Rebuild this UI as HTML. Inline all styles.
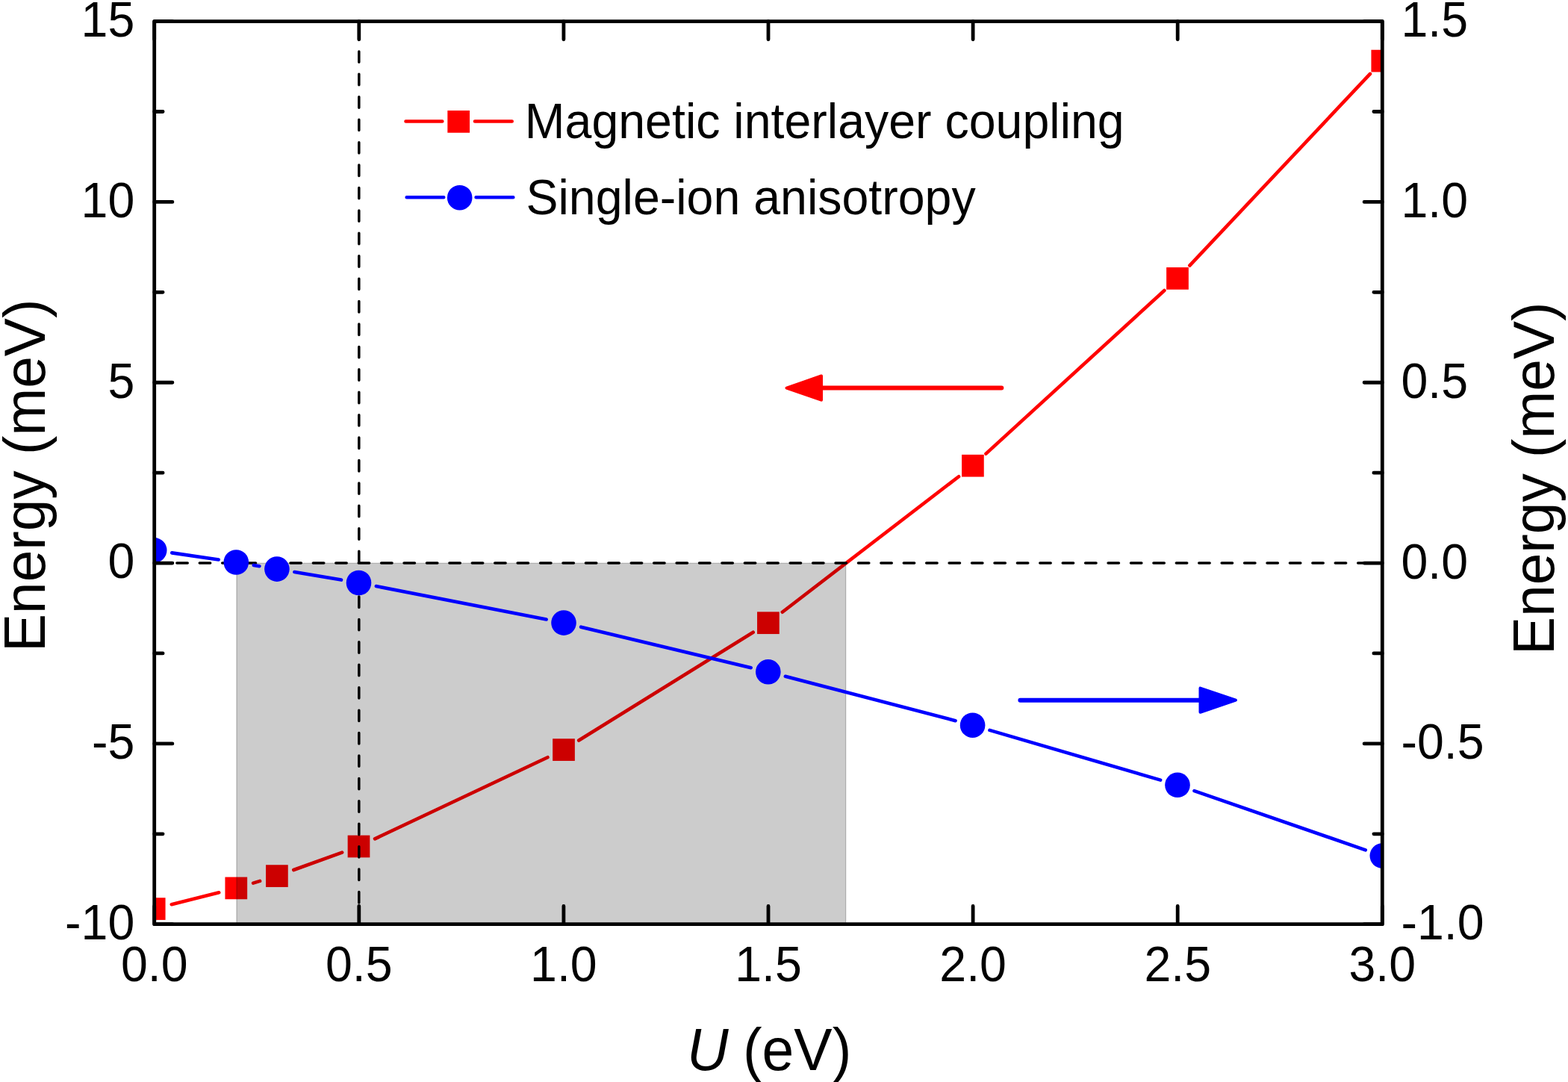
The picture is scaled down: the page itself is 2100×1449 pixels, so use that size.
<!DOCTYPE html><html><head><meta charset="utf-8"><style>html,body{margin:0;padding:0;background:#fff;}svg{display:block;}text{font-family:"Liberation Sans",Arial,sans-serif;fill:#000;}</style></head><body>
<svg width="2100" height="1449" viewBox="0 0 2100 1449">
<defs><clipPath id="pc"><rect x="206.70" y="28.60" width="1644.60" height="1209.10"/></clipPath></defs>
<rect width="2100" height="1449" fill="#fff"/>
<g clip-path="url(#pc)">
<path d="M229.77 1211.27L293.23 1195.23M339.11 1182.59L348.09 1179.91M393.28 1165.01L458.12 1141.59M502.03 1123.35L733.47 1014.25M775.22 991.55L1008.68 846.75M1047.77 819.70L1284.03 638.20M1320.46 607.63L1559.44 388.97M1593.32 355.57L1834.98 98.93" stroke="#f00" stroke-width="4.60" stroke-linecap="round" fill="none"/>
<rect x="191.85" y="1202.25" width="29.70" height="29.70" fill="#f00"/>
<rect x="301.45" y="1174.55" width="29.70" height="29.70" fill="#f00"/>
<rect x="356.05" y="1158.25" width="29.70" height="29.70" fill="#f00"/>
<rect x="465.65" y="1118.65" width="29.70" height="29.70" fill="#f00"/>
<rect x="740.15" y="989.25" width="29.70" height="29.70" fill="#f00"/>
<rect x="1014.05" y="819.35" width="29.70" height="29.70" fill="#f00"/>
<rect x="1288.05" y="608.85" width="29.70" height="29.70" fill="#f00"/>
<rect x="1562.15" y="358.05" width="29.70" height="29.70" fill="#f00"/>
<rect x="1836.45" y="66.75" width="29.70" height="29.70" fill="#f00"/>
<rect x="316.50" y="754.06" width="816.50" height="483.64" fill="#000" fill-opacity="0.2"/>
<path d="M317.20 754.06V1237.70M1132.70 754.06V1237.70M316.50 754.36H1133.00" stroke="#000" stroke-opacity="0.15" stroke-width="1.5" fill="none"/>
<path d="M206.43 754.06H1851.30" stroke="#000" stroke-width="3.5" stroke-linecap="round" stroke-dasharray="14.4 16.02" fill="none"/>
<path d="M480.80 38.53V1237.70" stroke="#000" stroke-width="3.5" stroke-linecap="round" stroke-dasharray="14.4 16.02" fill="none"/>
<path d="M230.25 740.36L292.75 749.54M339.78 756.91L347.42 758.19M394.37 766.04L457.03 776.56M503.86 785.06L731.64 829.54M778.14 839.65L1005.66 894.25M1051.83 905.81L1279.57 965.19M1325.45 977.87L1554.15 1044.63M1599.49 1059.07L1828.81 1138.33" stroke="#00f" stroke-width="4.60" stroke-linecap="round" fill="none"/>
<circle cx="206.70" cy="736.90" r="16.8" fill="#00f"/>
<circle cx="316.30" cy="753.00" r="16.8" fill="#00f"/>
<circle cx="370.90" cy="762.10" r="16.8" fill="#00f"/>
<circle cx="480.50" cy="780.50" r="16.8" fill="#00f"/>
<circle cx="755.00" cy="834.10" r="16.8" fill="#00f"/>
<circle cx="1028.80" cy="899.80" r="16.8" fill="#00f"/>
<circle cx="1302.60" cy="971.20" r="16.8" fill="#00f"/>
<circle cx="1577.00" cy="1051.30" r="16.8" fill="#00f"/>
<circle cx="1851.30" cy="1146.10" r="16.8" fill="#00f"/>
</g>
<rect x="206.70" y="28.60" width="1644.60" height="1209.10" fill="none" stroke="#000" stroke-width="4.80" stroke-linejoin="round"/>
<path d="M206.70 28.60h24.20M1851.30 28.60h-24.20M206.70 270.42h24.20M1851.30 270.42h-24.20M206.70 512.24h24.20M1851.30 512.24h-24.20M206.70 754.06h24.20M1851.30 754.06h-24.20M206.70 995.88h24.20M1851.30 995.88h-24.20M206.70 1237.70h24.20M1851.30 1237.70h-24.20M206.70 149.51h11.40M1851.30 149.51h-11.40M206.70 391.33h11.40M1851.30 391.33h-11.40M206.70 633.15h11.40M1851.30 633.15h-11.40M206.70 874.97h11.40M1851.30 874.97h-11.40M206.70 1116.79h11.40M1851.30 1116.79h-11.40M206.70 1237.70v-24.20M206.70 28.60v24.20M480.80 1237.70v-24.20M480.80 28.60v24.20M754.90 1237.70v-24.20M754.90 28.60v24.20M1029.00 1237.70v-24.20M1029.00 28.60v24.20M1303.10 1237.70v-24.20M1303.10 28.60v24.20M1577.20 1237.70v-24.20M1577.20 28.60v24.20M1851.30 1237.70v-24.20M1851.30 28.60v24.20" stroke="#000" stroke-width="4.80" stroke-linecap="round" fill="none"/>
<text transform="translate(180.3 48.90) scale(1 1.027)" font-size="64.5" text-anchor="end">15</text>
<text transform="translate(180.3 290.72) scale(1 1.027)" font-size="64.5" text-anchor="end">10</text>
<text transform="translate(180.3 532.54) scale(1 1.027)" font-size="64.5" text-anchor="end">5</text>
<text transform="translate(180.3 774.36) scale(1 1.027)" font-size="64.5" text-anchor="end">0</text>
<text transform="translate(180.3 1016.18) scale(1 1.027)" font-size="64.5" text-anchor="end">-5</text>
<text transform="translate(180.3 1258.00) scale(1 1.027)" font-size="64.5" text-anchor="end">-10</text>
<text transform="translate(1876.5 49.20) scale(1 1.027)" font-size="64.5">1.5</text>
<text transform="translate(1876.5 291.02) scale(1 1.027)" font-size="64.5">1.0</text>
<text transform="translate(1876.5 532.84) scale(1 1.027)" font-size="64.5">0.5</text>
<text transform="translate(1876.5 774.66) scale(1 1.027)" font-size="64.5">0.0</text>
<text transform="translate(1876.5 1016.48) scale(1 1.027)" font-size="64.5">-0.5</text>
<text transform="translate(1876.5 1258.30) scale(1 1.027)" font-size="64.5">-1.0</text>
<text transform="translate(206.70 1314.2) scale(1 1.027)" font-size="64.5" text-anchor="middle">0.0</text>
<text transform="translate(480.80 1314.2) scale(1 1.027)" font-size="64.5" text-anchor="middle">0.5</text>
<text transform="translate(754.90 1314.2) scale(1 1.027)" font-size="64.5" text-anchor="middle">1.0</text>
<text transform="translate(1029.00 1314.2) scale(1 1.027)" font-size="64.5" text-anchor="middle">1.5</text>
<text transform="translate(1303.10 1314.2) scale(1 1.027)" font-size="64.5" text-anchor="middle">2.0</text>
<text transform="translate(1577.20 1314.2) scale(1 1.027)" font-size="64.5" text-anchor="middle">2.5</text>
<text transform="translate(1851.30 1314.2) scale(1 1.027)" font-size="64.5" text-anchor="middle">3.0</text>
<text transform="translate(60.4 873.0) rotate(-90) scale(1 1.027)" font-size="76.6">Energy (meV)</text>
<text transform="translate(2081.1 876.9) rotate(-90) scale(1 1.027)" font-size="76.6">Energy (meV)</text>
<text transform="translate(920 1433.3) scale(1 1.027)" font-size="77" font-style="italic">U</text>
<text transform="translate(994.9 1433.3) scale(1 1.027)" font-size="77">(eV)</text>
<path d="M543.45 162.5H592.35M635.95 162.5H685.75" stroke="#f00" stroke-width="4.5" stroke-linecap="round"/>
<rect x="599.35" y="148.05" width="29.7" height="29.7" fill="#f00"/>
<path d="M544.65 264.3H594.25M637.55 264.3H687.35" stroke="#00f" stroke-width="4.5" stroke-linecap="round"/>
<circle cx="615.7" cy="264.7" r="16.8" fill="#00f"/>
<text transform="translate(702.8 184.8) scale(1 1.027)" font-size="64.5">Magnetic interlayer coupling</text>
<text transform="translate(704.5 286.8) scale(1 1.027)" font-size="64.5">Single-ion anisotropy</text>
<path d="M1341.3 519.6H1101.5" stroke="#f00" stroke-width="6" stroke-linecap="round"/>
<path d="M1053.5 519.6L1100 503.5V535.7Z" fill="#f00" stroke="#f00" stroke-width="4" stroke-linejoin="round"/>
<path d="M1366.4 937.7H1607" stroke="#00f" stroke-width="6" stroke-linecap="round"/>
<path d="M1655 937.7L1607.5 921.6V953.8Z" fill="#00f" stroke="#00f" stroke-width="4" stroke-linejoin="round"/>
</svg></body></html>
